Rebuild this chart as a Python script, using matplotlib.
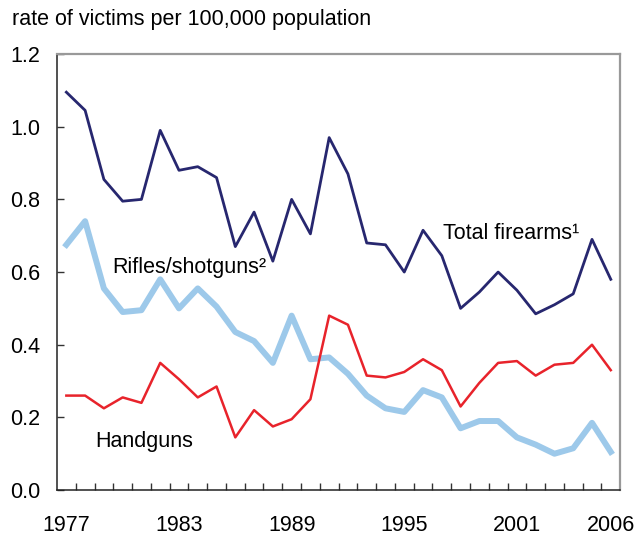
import numpy as np
import matplotlib
matplotlib.use("Agg")
import matplotlib.pyplot as plt

years = np.arange(1977, 2007)
total_firearms = [1.095, 1.045, 0.855, 0.795, 0.80, 0.99, 0.88, 0.89, 0.86, 0.67,
                  0.765, 0.63, 0.80, 0.705, 0.97, 0.87, 0.68, 0.675, 0.60, 0.715,
                  0.645, 0.50, 0.545, 0.60, 0.55, 0.485, 0.51, 0.54, 0.69, 0.58]
rifles_shotguns = [0.675, 0.74, 0.555, 0.49, 0.495, 0.58, 0.50, 0.555, 0.505, 0.435,
                   0.41, 0.35, 0.48, 0.36, 0.365, 0.32, 0.26, 0.225, 0.215, 0.275,
                   0.255, 0.17, 0.19, 0.19, 0.145, 0.125, 0.10, 0.115, 0.185, 0.105]
handguns = [0.26, 0.26, 0.225, 0.255, 0.24, 0.35, 0.305, 0.255, 0.285, 0.145,
            0.22, 0.175, 0.195, 0.25, 0.48, 0.455, 0.315, 0.31, 0.325, 0.36,
            0.33, 0.23, 0.295, 0.35, 0.355, 0.315, 0.345, 0.35, 0.40, 0.33]
xtick_years = [1977, 1983, 1989, 1995, 2001, 2006]
yticks = [0.0, 0.2, 0.4, 0.6, 0.8, 1.0, 1.2]

plt.rcParams['font.family'] = ['Liberation Sans', 'DejaVu Sans']
fs = 15.5

fig = plt.figure(figsize=(6.4, 5.35), dpi=100)
ax = fig.add_axes([0.089, 0.084, 0.88, 0.815])

ax.plot(years, rifles_shotguns, color="#9dc9ea", lw=4.3)
ax.plot(years, handguns, color="#e8232b", lw=1.8)
ax.plot(years, total_firearms, color="#27276f", lw=2.0)

ax.set_xlim(1976.5, 2006.5)
ax.set_ylim(0, 1.2)
ax.set_yticks(yticks)
ax.set_yticklabels([f"{v:.1f}" for v in yticks], fontsize=fs)
ax.set_xticks(xtick_years)
ax.set_xticklabels([str(y) for y in xtick_years], fontsize=fs)
# year boundaries carry the small tick marks
ax.set_xticks(years[:-1] + 0.5, minor=True)
ax.tick_params(axis="x", which="major", length=0, pad=18)
ax.tick_params(axis="x", which="minor", direction="in", length=5, width=1, color="#333333")
ax.tick_params(axis="y", direction="in", length=5, width=1, pad=12, color="#333333")

for side in ["top", "right"]:
    ax.spines[side].set_color("#999999")
    ax.spines[side].set_linewidth(1.6)
for side in ["left", "bottom"]:
    ax.spines[side].set_color("#222222")
    ax.spines[side].set_linewidth(1.1)

ax.text(1997.06, 0.69, "Total firearms\u00b9", fontsize=fs, va="baseline")
ax.text(1979.45, 0.597, "Rifles/shotguns\u00b2", fontsize=fs, va="baseline")
ax.text(1978.54, 0.118, "Handguns", fontsize=fs, va="baseline")

fig.text(0.018, 0.953, "rate of victims per 100,000 population", fontsize=fs, va="baseline")

fig.savefig("out.png", dpi=100)
